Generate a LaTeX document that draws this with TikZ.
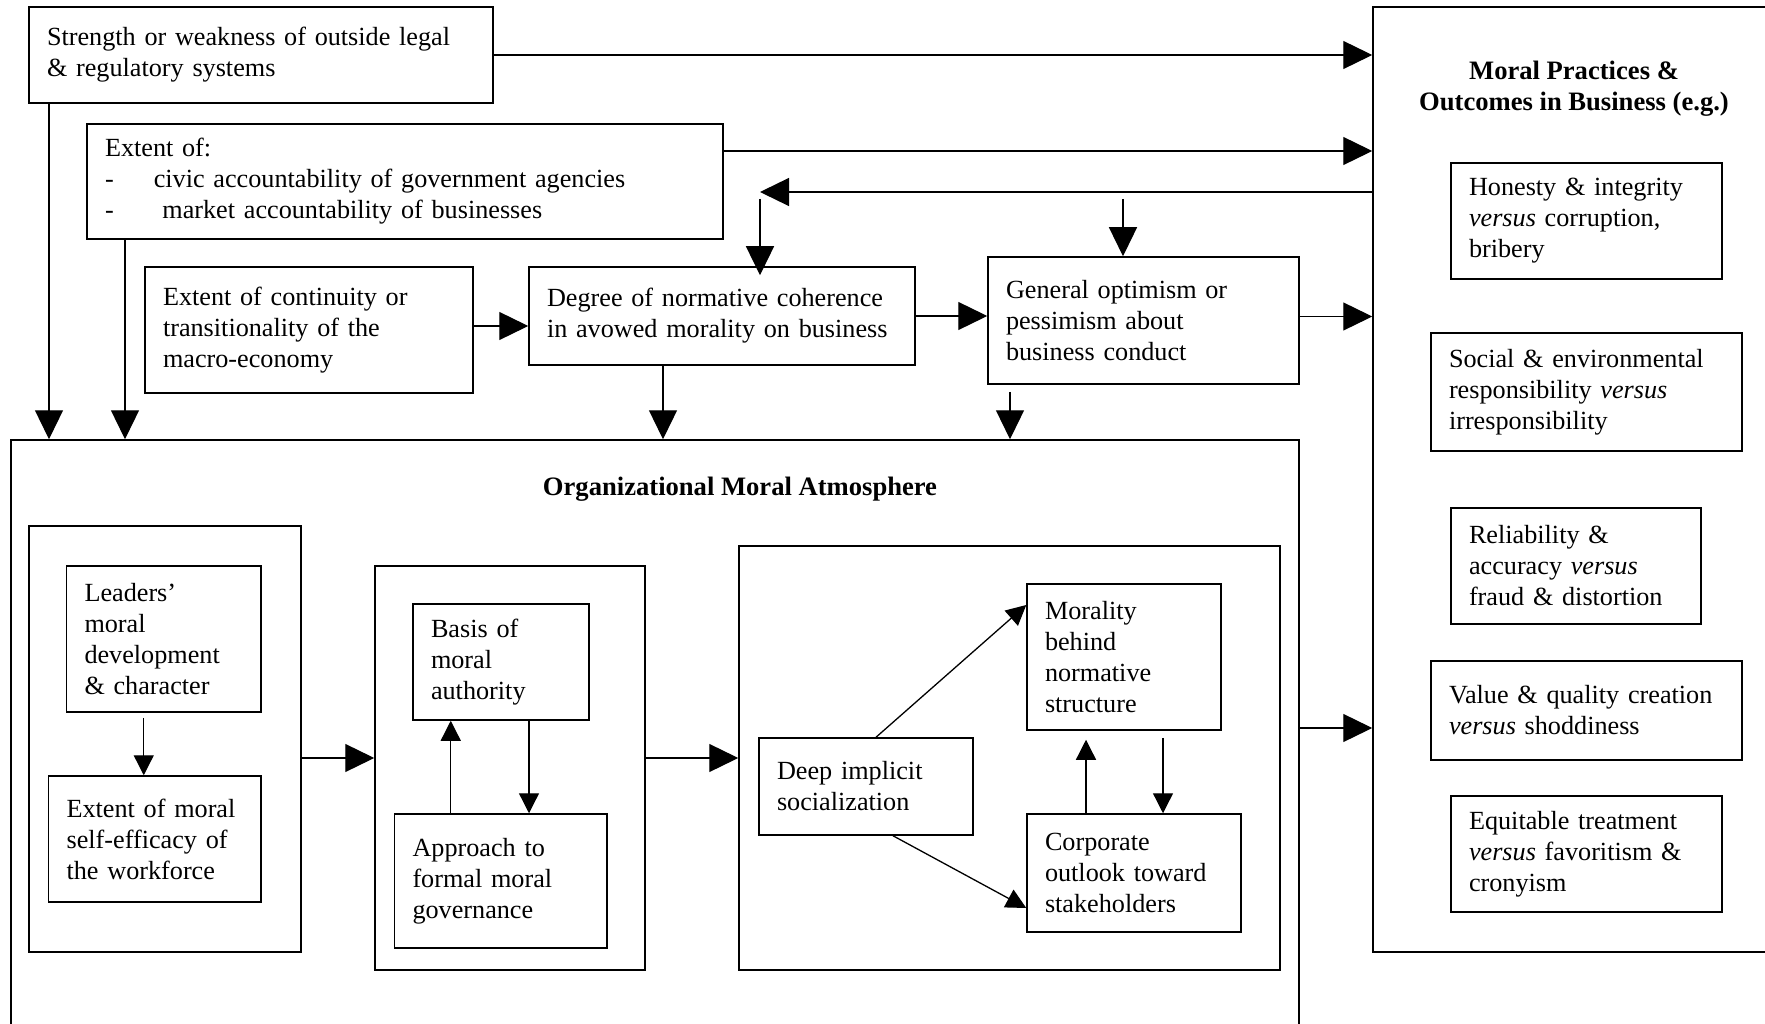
\documentclass[tikz,border=0pt]{standalone}
\usepackage{fontspec}
\setmainfont{Liberation Serif}
\usetikzlibrary{arrows.meta,calc}
\newcommand{\figfont}{\fontsize{26.2}{31}\selectfont}

\begin{document}
\begin{tikzpicture}[
    x=1pt,y=-1pt,
    box/.style={draw,line width=1.5pt,inner xsep=18pt,inner ysep=0pt,
        align=left,font=\figfont},
    grp/.style={draw,line width=1.5pt,inner sep=0pt},
    ttl/.style={align=center,font=\fontsize{26.6}{31}\selectfont\bfseries},
    bigarr/.style={line width=1.3pt,-{Triangle[length=29pt,width=28pt]}},
    smlarr/.style={line width=1.3pt,-{Triangle[length=20pt,width=20pt]}}
]
    \path[use as bounding box] (0,0) rectangle (1765,1024);
    \clip (0,0) rectangle (1765,1024);

    \node[grp,minimum width=427pt,minimum height=945pt] (out) at (1586.5,479.5) {};
    \node[grp,minimum width=1288pt,minimum height=600pt] (org) at (655,740) {};
    \node[grp,minimum width=272pt,minimum height=426pt] (grp1) at (165,739) {};
    \node[grp,minimum width=270pt,minimum height=404pt] (grp2) at (510,768) {};
    \node[grp,minimum width=541pt,minimum height=424pt] (grp3) at (1009.5,758) {};

    \node[ttl] (outttl) at (1574,89) {Moral Practices \&\\Outcomes in Business (e.g.)};
    \node[ttl] (orgttl) at (740,489) {Organizational Moral Atmosphere};

    \node[box,text width=428pt,minimum height=96pt] (strength) at (261,55)
        {Strength or weakness of outside legal\\\& regulatory systems};
    \node[box,text width=600pt,minimum height=115pt] (extent) at (405,181.5)
        {Extent of:\\\makebox[48.8pt][l]{-}civic accountability of government agencies\\
        \makebox[57.4pt][l]{-}market accountability of businesses};
    \node[box,text width=292pt,minimum height=126pt] (macro) at (309,330)
        {Extent of continuity or\\transitionality of the\\macro-economy};
    \node[box,text width=350pt,minimum height=98pt] (coher) at (722,316)
        {Degree of normative coherence\\in avowed morality on business};
    \node[box,text width=275pt,minimum height=127pt] (optim) at (1143.5,320.5)
        {General optimism or\\pessimism about\\business conduct};

    \node[box,text width=235pt,minimum height=116pt] (hon) at (1586.5,221)
        {Honesty \& integrity\\\textit{versus} corruption,\\bribery};
    \node[box,text width=275pt,minimum height=118pt] (soc) at (1586.5,392)
        {Social \& environmental\\responsibility \textit{versus}\\irresponsibility};
    \node[box,text width=214pt,minimum height=116pt] (rel) at (1576,566)
        {Reliability \&\\accuracy \textit{versus}\\fraud \& distortion};
    \node[box,text width=275pt,minimum height=99pt] (val) at (1586.5,710.5)
        {Value \& quality creation\\\textit{versus} shoddiness};
    \node[box,text width=235pt,minimum height=116pt] (equ) at (1586.5,854)
        {Equitable treatment\\\textit{versus} favoritism \&\\cronyism};

    \node[box,text width=158.5pt,minimum height=146pt] (lead) at (163.75,639)
        {Leaders'\\moral\\development\\\& character};
    \node[box,text width=176.4pt,minimum height=126pt] (eff) at (154.8,839)
        {Extent of moral\\self-efficacy of\\the workforce};
    \node[box,text width=140pt,minimum height=116pt] (basis) at (501,662)
        {Basis of\\moral\\authority};
    \node[box,text width=176.5pt,minimum height=134pt] (appr) at (500.75,881)
        {Approach to\\formal moral\\governance};
    \node[box,text width=178pt,minimum height=97pt] (deep) at (866,786.5)
        {Deep implicit\\socialization};
    \node[box,text width=158pt,minimum height=146pt] (moral) at (1124,657)
        {Morality\\behind\\normative\\structure};
    \node[box,text width=178pt,minimum height=118pt] (corp) at (1134,873)
        {Corporate\\outlook toward\\stakeholders};

    \coordinate (fb) at (760,192);
    \coordinate (fb2) at (1123,199);

    \foreach \n/\dy in {strength/0,extent/30.5,optim/4,org/12}
        \draw[bigarr] ([yshift=\dy pt]\n.east) -- ([yshift=\dy pt]\n.east -| out.west);
    \foreach \n/\dx in {strength/-212,extent/-280,coher/-59}
        \draw[bigarr] ([xshift=\dx pt]\n.south) -- ([xshift=\dx pt]\n.south |- org.north);
    \draw[bigarr] ([xshift=-133.5pt,yshift=-7pt]optim.south)
        -- ([xshift=-133.5pt]optim.south |- org.north);
    \draw[bigarr] (out.west |- fb) -- (fb);
    \draw[bigarr] ([yshift=-7pt]fb) -- ($(fb |- coher.north)+(0,9)$);
    \draw[bigarr] (fb2) -- (fb2 |- optim.north);
    \draw[bigarr] ([yshift=4pt]macro.east) -- ([yshift=4pt]macro.east -| coher.west);
    \draw[bigarr] (coher.east) -- (coher.east -| optim.west);
    \draw[bigarr] ([yshift=-19pt]grp1.east) -- ([yshift=-19pt]grp1.east -| grp2.west);
    \draw[bigarr] ([yshift=10pt]grp2.east) -- ([yshift=10pt]grp2.east -| grp3.west);

    \draw[smlarr] ([xshift=-20pt,yshift=-5pt]lead.south) -- ([xshift=-20pt]lead.south |- eff.north);
    \draw[smlarr] ([xshift=-50pt]appr.north) -- ([xshift=-50pt]appr.north |- basis.south);
    \draw[smlarr] ([xshift=28pt]basis.south) -- ([xshift=28pt]basis.south |- appr.north);
    \draw[smlarr] ([xshift=10pt]deep.north) -- ([yshift=52pt]moral.west);
    \draw[smlarr] ([xshift=27pt]deep.south) -- ([yshift=-35pt]corp.west);
    \draw[smlarr] ([xshift=-48pt]corp.north) -- ([xshift=-38pt,yshift=-9pt]moral.south);
    \draw[smlarr] ([xshift=39pt,yshift=-7pt]moral.south) -- ([xshift=29pt]corp.north);
\end{tikzpicture}
\end{document}
